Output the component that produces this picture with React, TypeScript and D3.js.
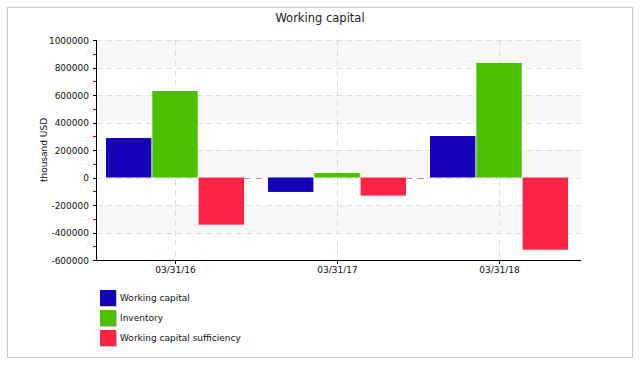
import React from "react";
import * as d3 from "d3";

const categories = ["03/31/16", "03/31/17", "03/31/18"];
const seriesNames = ["Working capital", "Inventory", "Working capital sufficiency"];
const workingCapital = [287000, -105000, 302000];
const inventory = [629000, 33000, 833000];
const sufficiency = [-343000, -132000, -525000];
const yTicks = [1000000, 800000, 600000, 400000, 200000, 0, -200000, -400000, -600000];
const colors = ["#1500BA", "#4BC000", "#FF2446"];

const W = 640, H = 365;
const left = 96, right = 581, top = 40, bottom = 260;
const font = "DejaVu Sans, Verdana, sans-serif";

export default function App() {
  const series = [workingCapital, inventory, sufficiency];
  const y = d3.scaleLinear().domain([-600000, 1000000]).range([bottom, top]);
  const x = d3.scaleBand().domain(categories).range([94, 580]).paddingInner(0).paddingOuter(0);
  const inner = d3.scaleBand().domain(seriesNames).range([0, 138]).paddingInner(0.02);
  const groupOffset = (x.bandwidth() - 138) / 2;
  const y0 = y(0);
  const minor = d3.range(-500000, 1000000, 200000);
  return (
    <svg width={W} height={H} style={{ position: "absolute", left: 0, top: 0 }}>
      <rect x={0} y={0} width={W} height={H} fill="#fff" />
      <rect x={7.5} y={7.5} width={625} height={350} fill="#fff" stroke="#c8c8c8" />
      <text x={320} y={22} textAnchor="middle" fontFamily={font} fontSize={11.5} fill="#222">Working capital</text>
      {[[1000000, 800000], [600000, 400000], [200000, 0], [-200000, -400000]].map((b, i) => (
        <rect key={i} x={left} y={y(b[0])} width={right - left} height={y(b[1]) - y(b[0])} fill="#f7f7f7" />
      ))}
      {yTicks.filter(t => t !== -600000).map(t => (
        <line key={t} x1={left} x2={right} y1={Math.round(y(t)) + 0.5} y2={Math.round(y(t)) + 0.5}
          stroke="#dedede" strokeDasharray="6,4" />
      ))}
      {categories.map(c => {
        const cx = Math.round(x(c)! + x.bandwidth() / 2) + 0.5;
        return <line key={c} x1={cx} x2={cx} y1={top} y2={bottom} stroke="#dedede" strokeDasharray="6,4" />;
      })}
      {categories.slice(0, -1).map((c, i) => {
        const x1 = x(c)! + groupOffset + 138;
        const x2 = x(categories[i + 1])! + groupOffset;
        return <line key={"z" + c} x1={x1} x2={x2} y1={Math.round(y0) + 0.5} y2={Math.round(y0) + 0.5} stroke="#b58c9c" strokeDasharray="6,6" />;
      })}
      {categories.map((c, ci) =>
        series.map((s, si) => {
          const v = s[ci];
          const bx = x(c)! + groupOffset + inner(seriesNames[si])!;
          const yv = y(v);
          return (
            <rect key={c + si} x={bx} y={Math.min(yv, y0)} width={inner.bandwidth()} height={Math.abs(yv - y0)} fill={colors[si]} />
          );
        })
      )}
      <line x1={left + 0.5} x2={left + 0.5} y1={top} y2={bottom} stroke="#000" />
      <line x1={left} x2={right} y1={bottom + 0.5} y2={bottom + 0.5} stroke="#000" />
      {yTicks.map(t => (
        <g key={t}>
          <line x1={left - 3} x2={left} y1={Math.round(y(t)) + 0.5} y2={Math.round(y(t)) + 0.5} stroke="#000" />
          <text x={89} y={y(t) + 3.5} textAnchor="end" fontFamily={font} fontSize={9} fill="#111">{t}</text>
        </g>
      ))}
      {minor.map(t => (
        <line key={t} x1={left - 3} x2={left} y1={Math.round(y(t)) + 0.5} y2={Math.round(y(t)) + 0.5} stroke="#e00000" />
      ))}
      {categories.map(c => {
        const cx = Math.round(x(c)! + x.bandwidth() / 2) + 0.5;
        return (
          <g key={c}>
            <line x1={cx} x2={cx} y1={bottom} y2={bottom + 4} stroke="#000" />
            <text x={cx} y={273} textAnchor="middle" fontFamily={font} fontSize={9} fill="#111">{c}</text>
          </g>
        );
      })}
      <text transform={`translate(47,${(top + bottom) / 2}) rotate(-90)`} textAnchor="middle" fontFamily={font} fontSize={9} fill="#111">thousand USD</text>
      {seriesNames.map((n, i) => (
        <g key={n}>
          <rect x={101} y={291 + i * 20} width={16} height={16} fill="#c4c4c4" />
          <rect x={100} y={290 + i * 20} width={16} height={16} fill={colors[i]} />
          <text x={120} y={301 + i * 20} fontFamily={font} fontSize={9} fill="#111">{n}</text>
        </g>
      ))}
    </svg>
  );
}
